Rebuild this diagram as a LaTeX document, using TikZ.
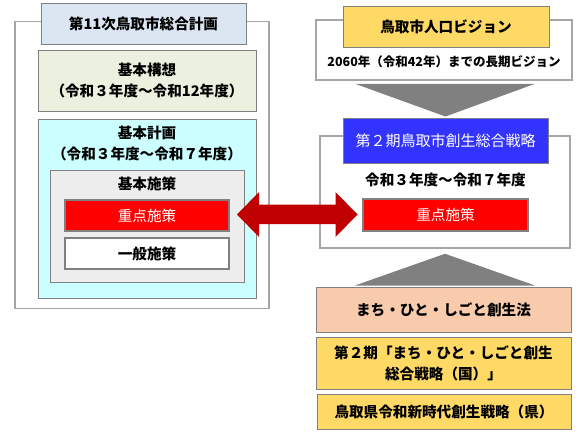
\documentclass[tikz,border=0pt]{standalone}
\usepackage{fontspec}
\setmainfont{Noto Sans CJK JP}
\usetikzlibrary{calc}

\definecolor{framegray}{HTML}{A6A6A6}
\definecolor{boxgray}{HTML}{808080}
\definecolor{titleblue}{HTML}{DCE6F2}
\definecolor{planegreen}{HTML}{EBF1DE}
\definecolor{plancyan}{HTML}{CCFFFF}
\definecolor{policygray}{HTML}{EDEDED}
\definecolor{visionyellow}{HTML}{FFD966}
\definecolor{lawpeach}{HTML}{F8CBAD}
\definecolor{strategyblue}{HTML}{3333FF}
\definecolor{arrowred}{HTML}{C00000}

\tikzset{
  frame/.style={draw=framegray, line width=1.5pt, fill=white, inner sep=0pt},
  box/.style={draw=boxgray, line width=1pt, inner sep=0pt, align=center,
    font=\bfseries\fontsize{14.6}{21}\selectfont},
  label/.style={inner sep=0pt, align=center, font=\bfseries\fontsize{14.6}{21}\selectfont},
  redbox/.style={box, fill=red, line width=2pt, text=white,
    font=\mdseries\fontsize{14.6}{21}\selectfont},
  wedge/.style={fill=boxgray, draw=none},
}

\begin{document}
\begin{tikzpicture}[x=1pt, y=-1pt]
  \useasboundingbox (0,0) rectangle (578,442);

  % left: the city's comprehensive plan
  \node[frame, minimum width=254, minimum height=287] (plan) at (142,165) {};
  \node[box, fill=titleblue, minimum width=205, minimum height=41] (planTitle) at (143.5,23.5) {第11次鳥取市総合計画};
  \node[box, fill=planegreen, minimum width=218, minimum height=61] (concept) at (147,80.5)
    {基本構想\\（令和３年度～令和12年度）};
  \node[box, fill=plancyan, minimum width=218, minimum height=179] (basicPlan) at (147,208.5) {};
  \node[label] (basicPlanText) at (147,143.5) {基本計画\\（令和３年度～令和７年度）};
  \node[box, fill=policygray, minimum width=194, minimum height=112] (policy) at (147,226) {};
  \node[label] (policyText) at (147,184) {基本施策};
  \node[redbox, minimum width=164, minimum height=31] (focusL) at (147,215.5) {重点施策};
  \node[box, fill=white, line width=2pt, minimum width=164, minimum height=31] (general) at (147,253.5) {一般施策};

  % right: population vision and strategy
  \node[frame, minimum width=256, minimum height=60] (vision) at (444,50) {};
  \node[box, fill=visionyellow, minimum width=206, minimum height=41] (visionTitle) at (446,26.5) {鳥取市人口ビジョン};
  \node[label, font=\bfseries\fontsize{12.5}{14}\selectfont] (visionText) at (444,62) {2060年（令和42年）までの長期ビジョン};

  \node[frame, minimum width=250, minimum height=112] (strategy) at (445,192) {};
  \node[box, fill=strategyblue, text=white, font=\mdseries\fontsize{15}{21}\selectfont,
    minimum width=205, minimum height=45] (strategyTitle) at (445.5,140.5) {第２期鳥取市創生総合戦略};
  \node[label] (strategyText) at (445.5,180) {令和３年度～令和７年度};
  \node[redbox, minimum width=165, minimum height=32] (focusR) at (445.5,215) {重点施策};

  \node[box, fill=lawpeach, minimum width=255, minimum height=45] (law) at (443.5,309.5) {まち・ひと・しごと創生法};
  \node[box, fill=visionyellow, minimum width=255, minimum height=52] (national) at (443.5,363)
    {第２期「まち・ひと・しごと創生\\総合戦略（国）」};
  \node[box, fill=visionyellow, minimum width=254, minimum height=35] (prefecture) at (444,411.5) {鳥取県令和新時代創生戦略（県）};

  % wedges into the strategy
  \fill[wedge] ($(vision.south)+(-89,3)$) -- ($(vision.south)+(91,3)$) -- ($(strategyTitle.north)+(0,-1)$) -- cycle;
  \fill[wedge] ($(strategy.south)+(0,5)$) -- ($(law.north)+(-88.5,-1)$) -- ($(law.north)+(91.5,-1)$) -- cycle;

  % double arrow between the two focus boxes
  \coordinate (tipL) at ($(focusL.east)+(7,-1)$);
  \coordinate (tipR) at ($(focusR.west)+(-4.5,-0.5)$);
  \fill[arrowred] (tipL) -- ++(22,-22.5) -- ++(0,12.5) -| ($(tipR)+(-22,-22.5)$)
    -- (tipR) -- ($(tipR)+(-22,22.5)$) |- ($(tipL)+(22,9.5)$) -- ++(0,13) -- cycle;
\end{tikzpicture}
\end{document}
